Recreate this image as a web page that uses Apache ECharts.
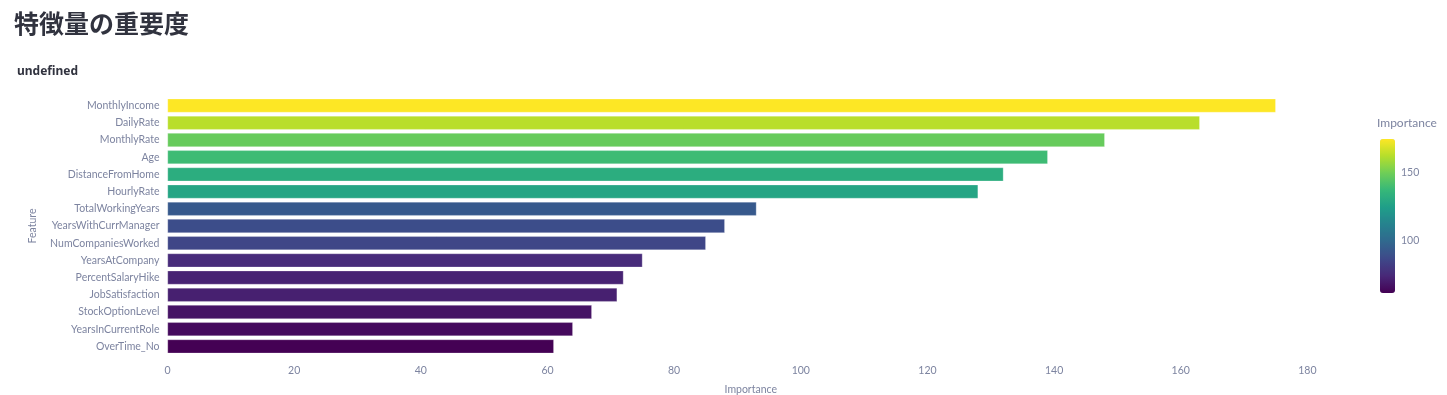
<!DOCTYPE html>
<html><head><meta charset="utf-8">
<script src="https://cdn.jsdelivr.net/npm/echarts@6/dist/echarts.min.js"></script>
<style>
html,body{margin:0;padding:0;background:#fff;}
#title{position:absolute;left:14px;top:4px;font-family:"Noto Sans CJK JP","Noto Sans",sans-serif;font-weight:700;font-size:25px;color:#31333F;}
#chart{position:absolute;left:0;top:0;width:1447px;height:395px;}
</style></head>
<body>
<div id="chart"></div>
<div id="title">特徴量の重要度</div>
<script>
const features = ["MonthlyIncome","DailyRate","MonthlyRate","Age","DistanceFromHome","HourlyRate","TotalWorkingYears","YearsWithCurrManager","NumCompaniesWorked","YearsAtCompany","PercentSalaryHike","JobSatisfaction","StockOptionLevel","YearsInCurrentRole","OverTime_No"];
const importance = [175,163,148,139,132,128,93,88,85,75,72,71,67,64,61];
const xTicks = [0,20,40,60,80,100,120,140,160,180];
const colorbarTicks = [100,150];
const viridis = ['#440154','#482878','#3e4989','#31688e','#26828e','#1f9e89','#35b779','#6ece58','#b5de2b','#fde725'];

const cmin = Math.min(...importance), cmax = Math.max(...importance);
const chart = echarts.init(document.getElementById('chart'));
const font = 'Lato, "Noto Sans", sans-serif';
const tickColor = '#7d84a0';
chart.setOption({
  animation:false,
  backgroundColor:'#fff',
  title:{text:'undefined',left:17,top:66,padding:0,textStyle:{fontFamily:'"Noto Sans", sans-serif',fontWeight:'bold',fontSize:12,color:'#31333F'}},
  grid:[
    {left:167.5,right:113,top:97,bottom:40,containLabel:false,outerBoundsMode:'none'},
    {left:1380,width:15,top:139,height:154,outerBoundsMode:'none'}
  ],
  xAxis:[
    {type:'value',gridIndex:0,min:0,max:184.2,
     axisLine:{show:false},axisTick:{show:false},splitLine:{show:false},
     axisLabel:{customValues:xTicks,color:tickColor,fontFamily:font,fontSize:10.5,margin:10},
     name:'Importance',nameLocation:'middle',nameGap:29,nameTextStyle:{color:tickColor,fontFamily:font,fontSize:10.5}},
    {type:'value',gridIndex:1,show:false}
  ],
  yAxis:[
    {type:'category',gridIndex:0,data:features,inverse:true,
     axisLine:{show:false},axisTick:{show:false},
     axisLabel:{color:tickColor,fontFamily:font,fontSize:10.5,margin:8},
     name:'Feature',nameLocation:'middle',nameGap:129,nameTextStyle:{color:tickColor,fontFamily:font,fontSize:10.5}},
    {type:'value',gridIndex:1,min:cmin,max:cmax,position:'right',
     axisLine:{show:false},axisTick:{show:false},splitLine:{show:false},
     axisLabel:{customValues:colorbarTicks,color:tickColor,fontFamily:font,fontSize:10.5,margin:6},
     name:'Importance',nameLocation:'end',nameGap:10,
     nameTextStyle:{color:tickColor,fontFamily:font,fontSize:12,align:'left',padding:[0,0,0,-3]}}
  ],
  visualMap:{type:'continuous',min:cmin,max:cmax,dimension:0,seriesIndex:0,
    inRange:{color:viridis},calculable:false,text:null,showLabel:false,
    orient:'vertical',left:1380,top:139,itemWidth:15,itemHeight:154,padding:0},
  series:[{type:'bar',xAxisIndex:0,yAxisIndex:0,barCategoryGap:'20%',
    data:importance.map((v,i)=>[v,features[i]]),
    itemStyle:{borderColor:'rgba(255,255,255,0.5)',borderWidth:0.5}}]
});
</script>
</body></html>
